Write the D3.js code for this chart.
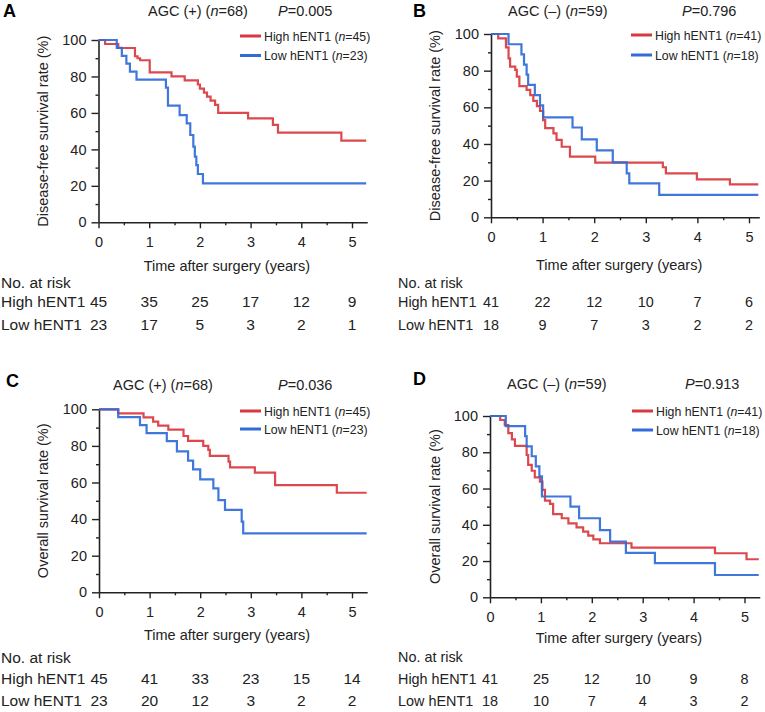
<!DOCTYPE html>
<html><head><meta charset="utf-8">
<script src="https://cdn.jsdelivr.net/npm/d3@7"></script>
<style>body{margin:0;background:#fff}svg{display:block;font-family:"Liberation Sans",Arial,sans-serif}</style>
</head><body><svg id="c" width="765" height="712"></svg>
<script>
// ---------- data ----------
const years = [0, 1, 2, 3, 4, 5];
const yTicks = [0, 20, 40, 60, 80, 100];

const aHighT = [0, 0.13, 0.39, 0.72, 0.77, 0.82, 1.01, 1.44, 1.70, 1.96, 2.00, 2.08, 2.14, 2.21, 2.30, 2.36, 2.95, 3.44, 3.54, 4.79, 5.28];
const aHighS = [100, 97.8, 95.6, 91.1, 90.0, 88.9, 82.2, 80.0, 77.8, 75.6, 73.3, 71.1, 68.9, 66.7, 64.4, 60.0, 57.0, 53.4, 49.2, 44.8, 44.8];
const aLowT = [0, 0.36, 0.46, 0.55, 0.62, 0.75, 1.33, 1.37, 1.60, 1.74, 1.81, 1.87, 1.90, 1.93, 1.96, 2.06, 5.28];
const aLowS = [100, 95.7, 91.3, 87.0, 82.6, 78.3, 73.9, 64.0, 58.8, 54.3, 47.9, 41.5, 36.0, 31.4, 26.5, 21.4, 21.4];

const bHighT = [0, 0.14, 0.29, 0.34, 0.37, 0.47, 0.50, 0.55, 0.69, 0.76, 0.82, 0.89, 0.95, 1.01, 1.05, 1.21, 1.27, 1.37, 1.53, 2.02, 3.33, 3.39, 3.99, 4.63, 5.18];
const bHighS = [100, 97.6, 92.7, 86.7, 82.2, 80.4, 76.7, 71.6, 69.5, 66.7, 63.5, 60.7, 58.0, 53.0, 48.6, 45.8, 42.2, 38.5, 33.1, 29.8, 27.3, 24.0, 20.7, 18.0, 18.0];
const bLowT = [0, 0.34, 0.59, 0.64, 0.69, 0.72, 0.85, 0.95, 1.01, 1.58, 1.76, 2.05, 2.36, 2.63, 2.68, 3.26, 5.18];
const bLowS = [100, 94.4, 88.9, 83.3, 77.8, 72.2, 66.7, 61.1, 54.5, 49.0, 42.5, 36.5, 30.0, 24.0, 18.5, 12.2, 12.2];

const cHighT = [0, 0.38, 0.88, 1.07, 1.17, 1.37, 1.67, 1.76, 2.06, 2.16, 2.19, 2.56, 2.59, 3.08, 3.48, 4.70, 5.29];
const cHighS = [100, 97.8, 95.6, 93.3, 91.1, 88.9, 85.4, 82.8, 80.0, 77.8, 74.5, 71.4, 68.3, 65.4, 58.6, 54.4, 54.4];
const cLowT = [0, 0.38, 0.81, 0.94, 1.34, 1.54, 1.76, 1.86, 2.00, 2.26, 2.36, 2.49, 2.82, 2.85, 5.29];
const cLowS = [100, 95.7, 91.3, 87.0, 82.6, 77.0, 72.0, 67.2, 61.7, 56.8, 50.4, 45.0, 38.6, 32.2, 32.2];

const dHighT = [0, 0.20, 0.29, 0.36, 0.43, 0.49, 0.72, 0.75, 0.82, 0.88, 0.98, 1.03, 1.08, 1.18, 1.24, 1.41, 1.54, 1.70, 1.83, 1.93, 2.03, 2.16, 2.78, 4.42, 5.04, 5.28];
const dHighS = [100, 97.8, 95.0, 90.5, 87.1, 83.5, 78.5, 73.0, 69.8, 66.2, 63.8, 59.2, 53.3, 51.5, 45.9, 43.6, 40.8, 38.6, 36.2, 34.0, 32.0, 29.8, 27.4, 24.3, 21.0, 21.0];
const dLowT = [0, 0.31, 0.69, 0.72, 0.82, 0.90, 0.97, 1.02, 1.58, 1.75, 2.16, 2.36, 2.67, 3.24, 4.42, 5.28];
const dLowS = [100, 94.4, 88.9, 83.3, 77.8, 72.2, 66.7, 55.6, 50.0, 43.6, 37.1, 30.7, 24.5, 18.8, 12.3, 12.3];

const aHighRisk = [45, 35, 25, 17, 12, 9], aLowRisk = [23, 17, 5, 3, 2, 1];
const bHighRisk = [41, 22, 12, 10, 7, 6], bLowRisk = [18, 9, 7, 3, 2, 2];
const cHighRisk = [45, 41, 33, 23, 15, 14], cLowRisk = [23, 20, 12, 3, 2, 2];
const dHighRisk = [41, 25, 12, 10, 9, 8], dLowRisk = [18, 10, 7, 4, 3, 2];

const RED = "#d8383f", BLUE = "#306bd8", INK = "#222";

// ---------- drawing ----------
const svg = d3.select("#c");

function italicText(g, x, y, parts, size) {
  const t = g.append("text").attr("x", x).attr("y", y)
    .attr("font-size", size).attr("fill", INK);
  parts.forEach(p => {
    const s = t.append("tspan").text(p[0]);
    if (p[1]) s.attr("font-style", "italic");
  });
  return t;
}

function panel(p) {
  const g = svg.append("g");
  const x = d3.scaleLinear().domain([0, p.xMax]).range([p.x0, p.x0 + p.xMax * p.pxYear]);
  const y = d3.scaleLinear().domain([0, 100]).range([p.yBottom, p.yTop]);

  // letter, title, P
  g.append("text").attr("x", p.letterX).attr("y", p.letterY).text(p.letter)
    .attr("font-size", 18).attr("font-weight", "bold").attr("fill", "#000");
  italicText(g, p.titleX, p.titleY, [[p.group + " ("], ["n", true], ["=" + p.n + ")"]], 14.5);
  italicText(g, p.pX, p.titleY, [["P", true], ["=" + p.pval]], 14.5);

  // axes
  const xAxis = d3.axisBottom(x).tickValues(years).tickSizeInner(6).tickSizeOuter(0).tickPadding(8).tickFormat(d3.format("d"));
  const xMinor = d3.axisBottom(x).tickValues(d3.range(0.5, p.xMax, 1)).tickSizeInner(3).tickSizeOuter(0).tickFormat("");
  const yAxis = d3.axisLeft(y).tickValues(yTicks).tickSizeInner(7).tickSizeOuter(0).tickPadding(5);
  const yMinor = d3.axisLeft(y).tickValues(d3.range(10, 100, 20)).tickSizeInner(3).tickSizeOuter(0).tickFormat("");

  g.append("g").attr("transform", `translate(0,${p.yBottom})`).call(xMinor).select(".domain").remove();
  g.append("g").attr("transform", `translate(${p.x0},0)`).call(yMinor).select(".domain").remove();
  g.append("g").attr("transform", `translate(0,${p.yBottom})`).call(xAxis);
  g.append("g").attr("transform", `translate(${p.x0},0)`).call(yAxis);
  g.selectAll(".domain").attr("stroke", INK).attr("stroke-width", 1.6);
  g.selectAll(".tick line").attr("stroke", INK).attr("stroke-width", 1.4);
  g.selectAll(".tick text").attr("font-size", 14.5).attr("fill", INK)
    .attr("font-family", '"Liberation Sans",Arial,sans-serif');

  // axis titles
  g.append("text").attr("x", x(0) + (x(p.xMax) - x(0)) / 2 - 6).attr("y", p.xTitleY)
    .attr("text-anchor", "middle").attr("font-size", 14.5).attr("fill", INK).text("Time after surgery (years)");
  g.append("text").attr("transform", `translate(${p.yTitleX},${(p.yTop + p.yBottom) / 2}) rotate(-90)`)
    .attr("text-anchor", "middle").attr("font-size", 14.5).attr("fill", INK).text(p.yTitle);

  // curves
  const line = d3.line().x(d => x(d[0])).y(d => y(d[1])).curve(d3.curveStepAfter);
  [[p.highT, p.highS, RED], [p.lowT, p.lowS, BLUE]].forEach(([T, S, c]) => {
    g.append("path").datum(T.map((t, i) => [t, S[i]])).attr("d", line)
      .attr("fill", "none").attr("stroke", c).attr("stroke-width", 2.2).attr("opacity", 0.92);
  });

  // legend
  [[RED, "High hENT1", p.nHigh, p.legY1], [BLUE, "Low hENT1", p.nLow, p.legY2]].forEach(([c, lab, n, ly]) => {
    g.append("line").attr("x1", p.legX).attr("x2", p.legX + 21).attr("y1", ly).attr("y2", ly)
      .attr("stroke", c).attr("stroke-width", 3);
    italicText(g, p.legX + 24, ly + 4.5, [[lab + " ("], ["n", true], ["=" + n + ")"]], 12.3);
  });

  // at-risk table
  const ts = p.tabSize;
  g.append("text").attr("x", p.tabX).attr("y", p.riskY0).attr("font-size", ts).attr("fill", INK).text("No. at risk");
  [["High hENT1", p.highRisk, p.riskY1], ["Low hENT1", p.lowRisk, p.riskY2]].forEach(([lab, vals, ry]) => {
    g.append("text").attr("x", p.tabX).attr("y", ry).attr("font-size", ts).attr("fill", INK).text(lab);
    g.selectAll(null).data(vals).enter().append("text")
      .attr("x", (d, i) => x(years[i])).attr("y", ry).attr("text-anchor", "middle")
      .attr("font-size", ts).attr("fill", INK).text(d => d);
  });
}

panel({letter: "A", letterX: 3, letterY: 16.5, group: "AGC (+)", n: 68, pval: "0.005", titleX: 148, pX: 278, titleY: 16,
  x0: 98.5, pxYear: 50.7, xMax: 5.3, yTop: 40, yBottom: 222.3, xTitleY: 271, yTitleX: 48, yTitle: "Disease-free survival rate (%)",
  highT: aHighT, highS: aHighS, lowT: aLowT, lowS: aLowS, legX: 240, legY1: 36, legY2: 55.5, nHigh: 45, nLow: 23,
  tabX: 1, tabSize: 15.5, riskY0: 288, riskY1: 307, riskY2: 330, highRisk: aHighRisk, lowRisk: aLowRisk});

panel({letter: "B", letterX: 413, letterY: 16.5, group: "AGC (–)", n: 59, pval: "0.796", titleX: 508, pX: 682, titleY: 16,
  x0: 491, pxYear: 51.6, xMax: 5.2, yTop: 34, yBottom: 217.3, xTitleY: 270, yTitleX: 440, yTitle: "Disease-free survival rate (%)",
  highT: bHighT, highS: bHighS, lowT: bLowT, lowS: bLowS, legX: 631, legY1: 35, legY2: 55, nHigh: 41, nLow: 18,
  tabX: 398, tabSize: 14.4, riskY0: 288, riskY1: 307, riskY2: 330, highRisk: bHighRisk, lowRisk: bLowRisk});

panel({letter: "C", letterX: 6, letterY: 387, group: "AGC (+)", n: 68, pval: "0.036", titleX: 113, pX: 278, titleY: 390,
  x0: 99, pxYear: 50.6, xMax: 5.3, yTop: 409.3, yBottom: 592.3, xTitleY: 640, yTitleX: 48, yTitle: "Overall survival rate (%)",
  highT: cHighT, highS: cHighS, lowT: cLowT, lowS: cLowS, legX: 240, legY1: 411, legY2: 429, nHigh: 45, nLow: 23,
  tabX: 1, tabSize: 15.5, riskY0: 663, riskY1: 684, riskY2: 706, highRisk: cHighRisk, lowRisk: cLowRisk});

panel({letter: "D", letterX: 413, letterY: 385, group: "AGC (–)", n: 59, pval: "0.913", titleX: 507, pX: 685, titleY: 389,
  x0: 490, pxYear: 50.9, xMax: 5.3, yTop: 416, yBottom: 597.3, xTitleY: 643, yTitleX: 440, yTitle: "Overall survival rate (%)",
  highT: dHighT, highS: dHighS, lowT: dLowT, lowS: dLowS, legX: 632, legY1: 411, legY2: 430, nHigh: 41, nLow: 18,
  tabX: 398, tabSize: 14.4, riskY0: 662, riskY1: 684, riskY2: 706, highRisk: dHighRisk, lowRisk: dLowRisk});
</script></body></html>
